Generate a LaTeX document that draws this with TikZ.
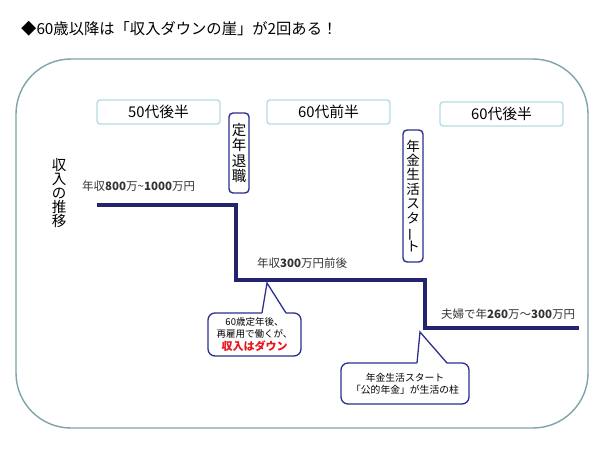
\documentclass[tikz,border=0pt]{standalone}
\usepackage{fontspec}
\setmainfont{Noto Sans CJK JP}
\usetikzlibrary{calc}
\definecolor{outerc}{HTML}{7FA3A8}
\definecolor{agec}{HTML}{B4DDE4}
\definecolor{navyc}{HTML}{2B2F8E}
\definecolor{stepc}{HTML}{22246E}
\definecolor{redc}{HTML}{E8141B}
\newcommand{\fs}[2]{\fontsize{#1}{#2}\selectfont}
\begin{document}
\begin{tikzpicture}[x=1pt,y=-1pt,
  agebox/.style={draw=agec,line width=1.4pt,rounded corners=3pt,fill=white,
    minimum width=123pt,minimum height=24pt,inner sep=0pt,font=\fs{14.8}{15}},
  vbox/.style={draw=navyc,line width=1.4pt,rounded corners=4pt,fill=white,
    minimum width=20pt,inner sep=0pt,align=center},
  lbl/.style={anchor=west,inner sep=0pt,font=\fs{11.5}{12},text=black!80},
  callbody/.style={draw=navyc,line width=1.3pt,rounded corners=7pt,fill=white,
    inner sep=0pt,align=center},
  ptr/.style={draw=navyc,line width=1.3pt,line join=miter},
  stepline/.style={draw=stepc,line width=4pt,line join=miter}]
\useasboundingbox (0,0) rectangle (600,450);
% title
\node[anchor=west,inner sep=0pt,font=\fs{15.3}{16}] (title) at (21,29)
  {◆60歳以降は「収入ダウンの崖」が2回ある！};
% outer frame
\node[draw=outerc,line width=1.4pt,rounded corners=55pt,
  minimum width=572pt,minimum height=369pt,inner sep=0pt] (frame) at (302,243.5) {};
% age boxes
\node[agebox] (a1) at (158.5,112) {50代後半};
\node[agebox] (a2) at (328.5,112) {60代前半};
\node[agebox] (a3) at (501.5,114) {60代後半};
% vertical event boxes
\node[vbox,minimum height=80pt,font=\fs{14.5}{15.5}] (e1) at (239,153)
  {定\\年\\退\\職};
\node[vbox,minimum height=132pt,font=\fs{13.5}{14.4}] (e2) at (413,196)
  {年\\金\\生\\活\\ス\\タ\\\rotatebox[origin=c]{90}{ー}\\ト};
% axis label
\node[inner sep=0pt,align=center,font=\fs{14.5}{14.2}] (ylab) at (59,193)
  {収\\入\\の\\推\\移};
% step line
\coordinate (p1) at (97,205);
\coordinate (p2) at (236,205);
\coordinate (p3) at (236,280);
\coordinate (p4) at (425,280);
\coordinate (p5) at (425,328);
\coordinate (p6) at (579,328);
\draw[stepline] (p1) -- (p2) -- (p3) -- (p4) -- (p5) -- (p6);
% value labels
\node[lbl] (v1) at (82,186) {年収\textbf{800}万\string~\textbf{1000}万円};
\node[lbl] (v2) at (257,263) {年収\textbf{300}万円前後};
\node[lbl] (v3) at (441,314) {夫婦で年\textbf{260}万～\textbf{300}万円};
% callout 1
\node[callbody,minimum width=93pt,minimum height=43pt] (c1) at (254.5,334.5)
  {\fs{9.5}{10.5}60歳定年後、\\\fs{9.5}{10.5}再雇用で働くが、\\[1.5pt]
   \fs{11}{12}\textbf{\textcolor{redc}{収入はダウン}}};
\coordinate (t1) at (267,283);
\coordinate (b1l) at (262,313);
\coordinate (b1r) at (286,313);
\fill[white] ($(b1l)+(-0.2,1.2)$) -- (t1) -- ($(b1r)+(0.2,1.2)$) -- cycle;
\draw[ptr] (b1l) -- (t1) -- (b1r);
% callout 2
\node[callbody,minimum width=128pt,minimum height=41pt] (c2) at (405,383.5)
  {\fs{9.8}{11}年金生活スタート\\\fs{9.8}{11}「公的年金」が生活の柱};
\coordinate (t2) at (420,332);
\coordinate (b2l) at (417,363);
\coordinate (b2r) at (447,363);
\fill[white] ($(b2l)+(-0.2,1.2)$) -- (t2) -- ($(b2r)+(0.2,1.2)$) -- cycle;
\draw[ptr] (b2l) -- (t2) -- (b2r);
\end{tikzpicture}
\end{document}
